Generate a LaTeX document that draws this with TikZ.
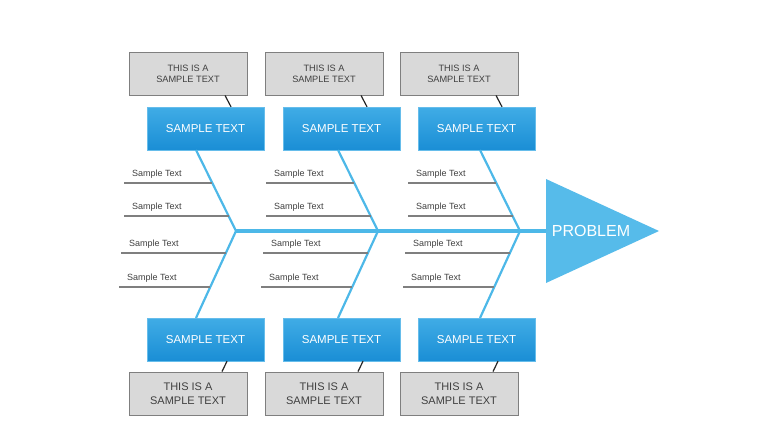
\documentclass[tikz,border=0pt]{standalone}
\usepackage{fontspec}
\setmainfont{Liberation Sans}
\usepackage{tikz}
\usetikzlibrary{positioning,calc}
\definecolor{fishBlue}{HTML}{4DB8E8}
\definecolor{headBlue}{HTML}{56BBEA}
\definecolor{boxTop}{HTML}{40ACE6}
\definecolor{boxBot}{HTML}{1A8ED5}
\definecolor{noteFill}{HTML}{D9D9D9}
\definecolor{noteLine}{HTML}{7F7F7F}
\definecolor{txtGray}{HTML}{404040}

\tikzset{
  causebox/.style={rectangle, minimum width=117pt, minimum height=43pt,
    top color=boxTop, bottom color=boxBot, draw=boxTop!80!white, line width=0.4pt,
    text=white, font=\fontsize{11.5}{13}\selectfont, inner sep=0pt},
  notebox/.style={rectangle, minimum width=118pt, minimum height=43pt,
    fill=noteFill, draw=noteLine, line width=0.8pt, text=txtGray, align=center, inner sep=0pt},
  bone/.style={draw=fishBlue, line width=2.2pt},
  rib/.style={draw=noteLine, line width=1.2pt},
  tie/.style={draw=black!85, line width=1.2pt},
  sample/.style={anchor=west, inner sep=0pt, text=txtGray, font=\fontsize{9}{10}\selectfont}
}

\begin{document}
\begin{tikzpicture}[x=1pt, y=-1pt]
    \useasboundingbox (0,0) rectangle (760,428);
    % Head
    \coordinate (head) at (546,231);
    \fill[headBlue] (546,179) -- (659,231) -- (546,283) -- cycle;
    \node[text=white, font=\fontsize{16}{18}\selectfont, inner sep=0pt] (problem) at (591,231) {PROBLEM};
    % Spine
    \coordinate (j1) at (236,231);
    \draw[draw=fishBlue, line width=4.5pt] (j1) -- (head);
    % Bones, boxes and ribs
    \foreach \i/\bx/\gx/\jx in {1/205.5/188/236, 2/341.5/324/378, 3/476.5/459/520} {
        \node[causebox] (top\i) at (\bx,128.5) {SAMPLE TEXT};
        \node[causebox] (bot\i) at (\bx,339.5) {SAMPLE TEXT};
        \node[notebox, font=\fontsize{9.2}{11}\selectfont] (notetop\i) at (\gx,73.5) {THIS IS A\\SAMPLE TEXT};
        \node[notebox, font=\fontsize{11}{13.5}\selectfont] (notebot\i) at (\gx,393.5) {THIS IS A\\SAMPLE TEXT};
        \draw[tie] ($(notetop\i.south)+(37,0)$) -- ($(top\i.north)+(25.5,0)$);
        \draw[tie] ($(bot\i.south)+(21.5,0)$) -- ($(notebot\i.north)+(34,0)$);
        \coordinate (m\i) at (\jx,231);
        \coordinate (a\i) at (\jx-40,150);
        \coordinate (b\i) at (\jx-40,318);
        \draw[bone] (a\i) -- (m\i) -- (b\i);
        \path (a\i) -- (m\i) coordinate[pos=0.407] (r\i1) coordinate[pos=0.815] (r\i2);
        \path (m\i) -- (b\i) coordinate[pos=0.253] (r\i3) coordinate[pos=0.644] (r\i4);
        \foreach \k/\dx in {1/112, 2/112, 3/115, 4/117} {
            \coordinate (l\i\k) at ($(r\i\k -| {\jx-\dx,0})$);
            \draw[rib] (l\i\k) -- (r\i\k);
            \node[sample] (s\i\k) at ($(l\i\k)+(8,-9)$) {Sample Text};
        }
    }
\end{tikzpicture}
\end{document}
